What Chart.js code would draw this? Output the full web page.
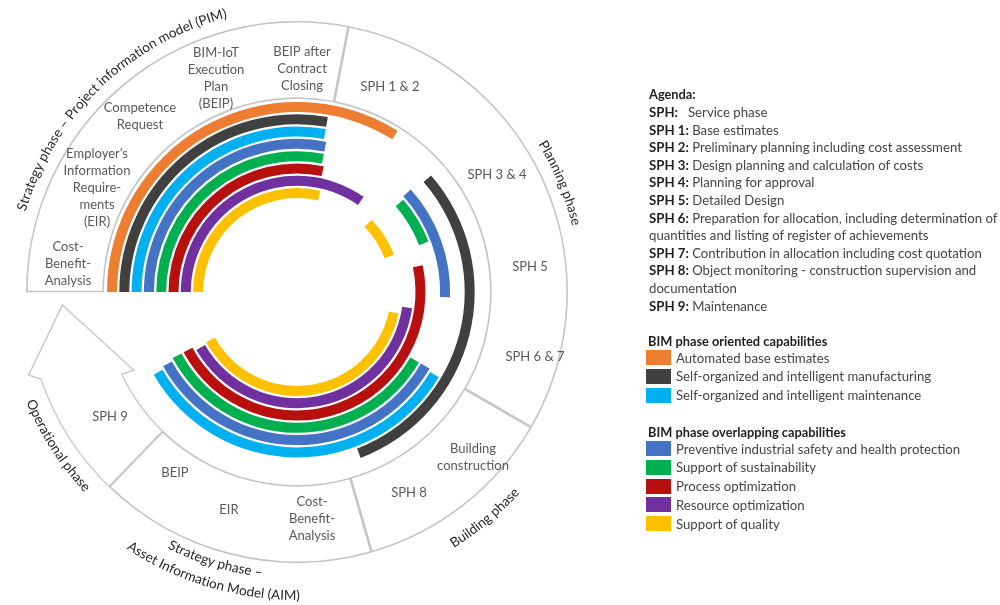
<!DOCTYPE html>
<html><head><meta charset="utf-8">
<script src="https://cdn.jsdelivr.net/npm/chart.js@4.4.0/dist/chart.umd.min.js"></script>
<style>
html,body{margin:0;padding:0;background:#fff;width:1000px;height:605px;overflow:hidden;font-family:Lato,'Open Sans',sans-serif;}
#c{position:absolute;left:0;top:0;}
#side{position:absolute;left:0;top:0;font-size:13.2px;color:#454545;}
.ln{position:absolute;white-space:nowrap;line-height:16px;height:16px;}
.ln b{font-weight:700;color:#1f1f1f}
.hd{font-weight:700;color:#1f1f1f;font-size:12.8px}
.sw{position:absolute;width:25px;height:15px;}
</style></head><body>
<canvas id="c" width="1000" height="605"></canvas>
<div id="side"></div>
<script>
// ---------- data (angles in degrees, clockwise from 12 o'clock) ----------
const capabilityNames = ['Automated base estimates','Self-organized and intelligent manufacturing','Self-organized and intelligent maintenance','Preventive industrial safety and health protection','Support of sustainability','Process optimization','Resource optimization','Support of quality'];
const capabilityColors = ['#ED7D31','#404040','#00B0F0','#4472C4','#00B050','#B80F0F','#7030A0','#FFC000'];
const orangeArcs    = [[270, 32]];
const darkGrayArcs  = [[270, 10], [49, 159]];
const lightBlueArcs = [[270, 10], [121, 240]];
const blueArcs      = [[270, 11], [48, 92], [120, 241]];
const greenArcs     = [[270, 11], [49, 69], [120, 242]];
const redArcs       = [[270, 12], [78, 242]];
const purpleArcs    = [[270, 35], [98, 240]];
const yellowArcs    = [[270, 13], [46, 69], [102, 241]];
const capabilityArcs = [orangeArcs, darkGrayArcs, lightBlueArcs, blueArcs, greenArcs, redArcs, purpleArcs, yellowArcs];

const phaseNames = ['Strategy phase – Project information model (PIM)','Planning phase','Building phase','Strategy phase – Asset Information Model (AIM)','Operational phase'];
const phaseArcs  = [[270, 11], [11, 120], [120, 164], [164, 224], [224, 245]];

const agendaKeys  = ['SPH:','SPH 1:','SPH 2:','SPH 3:','SPH 4:','SPH 5:','SPH 6:','','SPH 7:','SPH 8:','','SPH 9:'];
const agendaTexts = ['Service phase','Base estimates','Preliminary planning including cost assessment','Design planning and calculation of costs','Planning for approval','Detailed Design','Preparation for allocation, including determination of','quantities and listing of register of achievements','Contribution in allocation including cost quotation','Object monitoring - construction supervision and','documentation','Maintenance'];
const legendGroups = [['BIM phase oriented capabilities',[0,1,2]],['BIM phase overlapping capabilities',[3,4,5,6,7]]];

// ring labels: text lines and block centre offset from diagram centre
const ringLabels = [
  [['Cost-','Benefit-','Analysis'], -229, -28],
  [['Employer\u2019s','Information','Require-','ments','(EIR)'], -200, -104],
  [['Competence','Request'], -157, -176],
  [['BIM-IoT','Execution','Plan','(BEIP)'], -81, -214],
  [['BEIP after','Contract','Closing'], 5, -223],
  [['SPH 1 & 2'], 93, -205],
  [['SPH 3 & 4'], 200, -117],
  [['SPH 5'], 233, -25],
  [['SPH 6 & 7'], 238, 65],
  [['Building','construction'], 176, 165],
  [['SPH 8'], 112, 201],
  [['Cost-','Benefit-','Analysis'], 15, 227],
  [['EIR'], -68, 218],
  [['BEIP'], -122, 181],
  [['SPH 9'], -187, 125]
];
// curved phase captions: text, centre bearing, baseline radius, letters facing outward
const phaseCaptions = [
  ['Strategy phase \u2013 Project information model (PIM)', 316, 283, true],
  ['Planning phase', 67.5, 283, true],
  ['Building phase', 140.3, 300, false],
  ['Strategy phase \u2013', 197, 287, false],
  ['Asset Information Model (AIM)', 196.6, 308, false],
  ['Operational phase', 237.3, 292, false]
];

// ---------- build datasets ----------
const START = 270;
const CLEAR = 'rgba(0,0,0,0)';
function segments(spans, colorFor) {
  const rel = spans.map(([s, e], i) => [((s - START) % 360 + 360) % 360, ((e - s) % 360 + 360) % 360, i])
                   .sort((p, q) => p[0] - q[0]);
  const data = [], bg = [], isArc = [];
  let pos = 0;
  rel.forEach(([a, len, i]) => {
    data.push(a - pos); bg.push(CLEAR); isArc.push(false);
    data.push(len); bg.push(colorFor(i)); isArc.push(true);
    pos = a + len;
  });
  data.push(360 - pos); bg.push(CLEAR); isArc.push(false);
  return {data, bg, isArc};
}
const datasets = [];
const ph = segments(phaseArcs, () => '#ffffff');
const phaseBorder = ph.isArc.map((a, k) => a ? 1.3 : 0);
// the last phase (operational arrow) gets its outline from the decoration plugin
phaseBorder[phaseBorder.lastIndexOf(1.3)] = 0;
datasets.push({label: 'phases', data: ph.data, backgroundColor: ph.bg, borderColor: '#c4c4c4', borderWidth: phaseBorder, borderAlign: 'inner', weight: 78});
datasets.push({label: 'gap', data: [360], backgroundColor: [CLEAR], borderWidth: 0, weight: 3});
capabilityArcs.forEach((spans, k) => {
  if (k > 0) datasets.push({label: 'gap', data: [360], backgroundColor: [CLEAR], borderWidth: 0, weight: 2.3});
  const s = segments(spans, () => capabilityColors[k]);
  datasets.push({label: capabilityNames[k], data: s.data, backgroundColor: s.bg, borderWidth: 0, weight: 10});
});
datasets.forEach(d => { d.hoverOffset = 0; d.offset = 0; d.hoverBorderWidth = 0; });

// ---------- decorations ----------
const FONT = 'Lato, "Open Sans", sans-serif';
function arcText(ctx, text, cx, cy, r, centerB, outward) {
  const total = ctx.measureText(text).width;
  const c = centerB * Math.PI / 180;
  let a = outward ? c - total / r / 2 : c + total / r / 2;
  for (const ch of text) {
    const w = ctx.measureText(ch).width;
    const half = w / 2 / r;
    const ang = outward ? a + half : a - half;
    ctx.save();
    ctx.translate(cx + r * Math.sin(ang), cy - r * Math.cos(ang));
    ctx.rotate(outward ? ang : ang + Math.PI);
    ctx.fillText(ch, 0, 0);
    ctx.restore();
    a = outward ? a + 2 * half : a - 2 * half;
  }
}
const decor = {
  id: 'decor',
  afterDatasetsDraw(chart) {
    const ctx = chart.ctx;
    const el = chart.getDatasetMeta(0).data[0];
    const cx = el.x, cy = el.y, rO = el.outerRadius, rI = el.innerRadius;
    const P = (b, r) => [cx + r * Math.sin(b * Math.PI / 180), cy - r * Math.cos(b * Math.PI / 180)];
    const A = b => (b - 90) * Math.PI / 180;
    // operational phase arrow outline
    const op = phaseArcs[phaseArcs.length - 1];
    ctx.save();
    ctx.beginPath();
    ctx.arc(cx, cy, rO - 0.6, A(op[0]), A(251.2));
    ctx.lineTo(...P(252.8, rO + 10));
    ctx.lineTo(...P(266.8, rI + 42));
    ctx.lineTo(...P(244.4, rI - 12));
    ctx.lineTo(...P(244.8, rI + 0.6));
    ctx.arc(cx, cy, rI + 0.6, A(244.8), A(op[0]), true);
    ctx.closePath();
    ctx.fillStyle = '#fff'; ctx.fill();
    ctx.strokeStyle = '#c4c4c4'; ctx.lineWidth = 1.3; ctx.stroke();
    ctx.restore();
    // ring labels
    ctx.save();
    ctx.font = '13px ' + FONT;
    ctx.fillStyle = '#595959';
    ctx.textAlign = 'center';
    ctx.textBaseline = 'middle';
    const LH = 17;
    ringLabels.forEach(([lines, dx, dy]) => {
      const y0 = cy + dy - (lines.length - 1) * LH / 2;
      lines.forEach((t, i) => ctx.fillText(t, cx + dx, y0 + i * LH));
    });
    ctx.restore();
    // curved phase captions
    ctx.save();
    ctx.font = '13.5px ' + FONT;
    ctx.fillStyle = '#262626';
    ctx.textAlign = 'center';
    ctx.textBaseline = 'alphabetic';
    phaseCaptions.forEach(([t, b, r, out]) => arcText(ctx, t, cx, cy, r, b, out));
    ctx.restore();
  }
};

new Chart(document.getElementById('c'), {
  type: 'doughnut',
  data: {labels: phaseNames, datasets},
  options: {
    responsive: false,
    animation: false,
    events: [],
    rotation: START,
    circumference: 360,
    cutout: 93.9,
    layout: {padding: {left: 26, top: 21, right: 432, bottom: 42}},
    plugins: {legend: {display: false}, tooltip: {enabled: false}}
  },
  plugins: [decor]
});

// ---------- agenda & legend (HTML text) ----------
const side = document.getElementById('side');
function line(x, yc, html, cls) {
  const d = document.createElement('div');
  d.className = 'ln' + (cls ? ' ' + cls : '');
  d.style.left = x + 'px'; d.style.top = (yc - 8) + 'px';
  d.innerHTML = html; side.appendChild(d); return d;
}
const LX = 649, ROW = 17.6;
line(LX, 94, 'Agenda:', 'hd');
agendaKeys.forEach((k, i) => {
  const y = 112 + i * ROW;
  if (i === 0) { line(LX, y, '<b>' + k + '</b>'); line(688, y, agendaTexts[i]); }
  else line(LX, y, (k ? '<b>' + k + '</b> ' : '') + agendaTexts[i]);
});
let gy = 341;
legendGroups.forEach(([title, idx]) => {
  line(LX - 1, gy, title, 'hd');
  idx.forEach((ci, j) => {
    const y = gy + 16.5 + j * 18.8;
    const s = document.createElement('div');
    s.className = 'sw'; s.style.left = '646px'; s.style.top = (y - 7.5) + 'px';
    s.style.background = capabilityColors[ci]; side.appendChild(s);
    line(676, y, capabilityNames[ci]);
  });
  gy = 432;
});
</script>
</body></html>
